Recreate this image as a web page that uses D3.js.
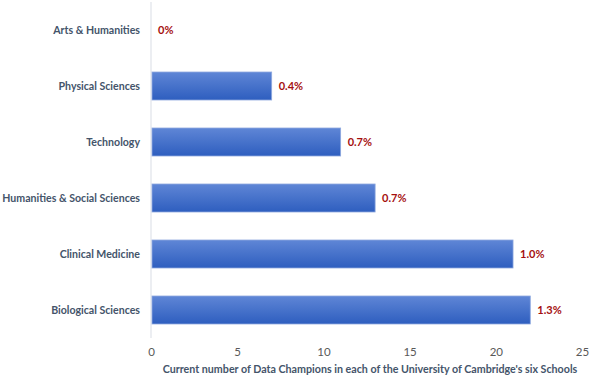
<!DOCTYPE html>
<html><head><meta charset="utf-8">
<script src="https://cdn.jsdelivr.net/npm/d3@7"></script>
<style>body{margin:0;background:#fff;} svg{display:block;font-family:Lato,"Open Sans",sans-serif;}</style>
</head><body>
<svg id="c" width="594" height="379"></svg>
<script>
const categories = ["Arts & Humanities","Physical Sciences","Technology","Humanities & Social Sciences","Clinical Medicine","Biological Sciences"];
const values = [0, 7, 11, 13, 21, 22];
const labels = ["0%","0.4%","0.7%","0.7%","1.0%","1.3%"];
const xTicks = [0,5,10,15,20,25];
const axisTitle = "Current number of Data Champions in each of the University of Cambridge's six Schools";

const svg = d3.select("#c");
const x = d3.scaleLinear().domain([0,25]).range([151,582]);
const y = d3.scaleBand().domain(categories).range([2,338]).paddingInner(0.5).paddingOuter(0.25);

const defs = svg.append("defs");
const g = defs.append("linearGradient").attr("id","bg").attr("x1",0).attr("y1",0).attr("x2",0).attr("y2",1);
g.append("stop").attr("offset","0%").attr("stop-color","#5f86d6");
g.append("stop").attr("offset","100%").attr("stop-color","#2e5ebf");

svg.append("line").attr("x1",x(0)).attr("x2",x(0)).attr("y1",2).attr("y2",338)
  .attr("stroke","#eceef2").attr("stroke-width",2);

svg.append("g").selectAll("rect").data(categories).join("rect")
  .attr("x",x(0)+1).attr("y",d=>y(d))
  .attr("width",(d,i)=>Math.max(0,x(values[i])-x(0)-1))
  .attr("height",y.bandwidth())
  .attr("fill","url(#bg)")
  .attr("stroke",(d,i)=>values[i]>0?"#8fa9df":"none").attr("stroke-width",0.8);

svg.append("g").selectAll("text").data(categories).join("text")
  .attr("x",x(0)-11).attr("y",d=>y(d)+y.bandwidth()/2).attr("dy","0.35em")
  .attr("text-anchor","end").attr("font-size",10.6).attr("font-weight","bold")
  .attr("fill","#44546a").text(d=>d);

svg.append("g").selectAll("text").data(categories).join("text")
  .attr("x",(d,i)=>x(values[i])+7).attr("y",d=>y(d)+y.bandwidth()/2).attr("dy","0.35em")
  .attr("font-size",11).attr("font-weight","bold").attr("fill","#a50f0f")
  .text((d,i)=>labels[i]);

const ax = svg.append("g").attr("transform","translate(0,342)")
  .call(d3.axisBottom(x).tickValues(xTicks).tickSize(0).tickPadding(6));
ax.select(".domain").remove();
ax.selectAll("text").attr("font-size",11.5).attr("fill","#595959").attr("font-family","Lato,'Open Sans',sans-serif");

svg.append("text").attr("x",370).attr("y",373).attr("text-anchor","middle")
  .attr("font-size",10.7).attr("font-weight","bold").attr("fill","#44546a").text(axisTitle);
</script>
</body></html>
